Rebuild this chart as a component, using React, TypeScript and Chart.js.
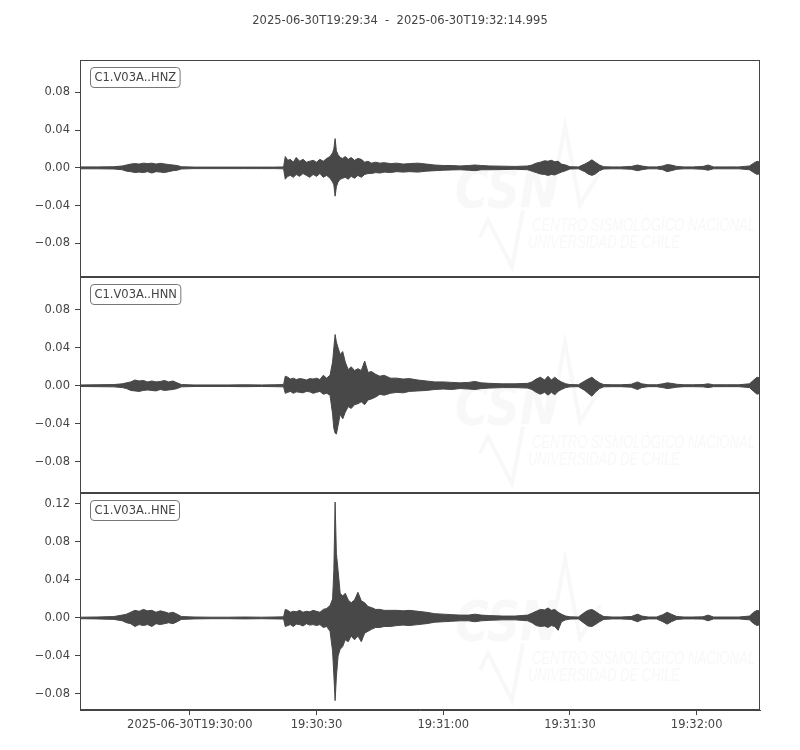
import { useEffect, useRef } from 'react';
import { Chart, registerables } from 'chart.js';

Chart.register(...registerables);

const TITLE = '2025-06-30T19:29:34  -  2025-06-30T19:32:14.995';
const DURATION_S = 160.995;
const X_TICKS_S = [26, 56, 86, 116, 146];
const X_TICK_LABELS = ['2025-06-30T19:30:00', '19:30:30', '19:31:00', '19:31:30', '19:32:00'];
const CHANNELS = ['C1.V03A..HNZ', 'C1.V03A..HNN', 'C1.V03A..HNE'];
const Y_RANGES = [
  [-0.1152, 0.1142],
  [-0.1135, 0.115],
  [-0.0969, 0.1312],
];
const Y_TICKS = [
  [-0.08, -0.04, 0, 0.04, 0.08],
  [-0.08, -0.04, 0, 0.04, 0.08],
  [-0.08, -0.04, 0, 0.04, 0.08, 0.12],
];

// seconds after 2025-06-30T19:29:34
const TIME_S = [
  0, 4, 8, 10, 11, 12, 13, 14, 15, 16,
  17, 18, 19, 20, 21, 22, 23, 24, 27, 31,
  35, 39, 43, 46, 48.2, 48.6, 49.2, 49.8, 50.5, 51.2,
  52, 52.8, 53.6, 54.4, 55.2, 56, 56.8, 57.6, 58.4, 59.2,
  59.8, 60.1, 60.4, 60.7, 61.1, 61.6, 62.2, 62.8, 63.5, 64.2,
  65, 65.8, 66.6, 67.4, 68.2, 69, 70, 71, 72, 73.5,
  75, 76.5, 78, 80, 82, 84, 86, 88, 90, 92,
  93.5, 95, 97, 100, 103, 106, 107, 108, 109, 110,
  110.8, 111.6, 112.4, 113.2, 114, 115, 116, 118, 119.5, 120.3,
  121.2, 122, 123, 124, 126, 128, 130.5, 132, 133, 134.5,
  136.5, 138, 139, 140, 141.3, 143, 145, 147.5, 148.7, 150,
  153, 156, 158.5, 159.5, 160.3, 160.995,
];

const HNZ_UPPER = [
  0.001, 0.001, 0.0012, 0.002, 0.003, 0.004, 0.0045, 0.004, 0.005, 0.0045,
  0.005, 0.004, 0.0048, 0.0042, 0.0035, 0.003, 0.0025, 0.0012, 0.0008, 0.0008,
  0.0008, 0.0008, 0.0008, 0.0008, 0.001, 0.012, 0.008, 0.009, 0.006, 0.011,
  0.007, 0.009, 0.006, 0.007, 0.008, 0.006, 0.009, 0.007, 0.01, 0.012,
  0.016, 0.02, 0.031, 0.018, 0.014, 0.011, 0.01, 0.012, 0.009, 0.011,
  0.008, 0.01, 0.009, 0.006, 0.007, 0.005, 0.006, 0.005, 0.0055, 0.0045,
  0.005, 0.004, 0.0045, 0.005, 0.004, 0.003, 0.0025, 0.0025, 0.002, 0.0025,
  0.003, 0.0025, 0.002, 0.0018, 0.0015, 0.002, 0.003, 0.005, 0.006, 0.0075,
  0.007, 0.008, 0.0065, 0.007, 0.004, 0.003, 0.0012, 0.001, 0.004, 0.006,
  0.0085, 0.006, 0.003, 0.0012, 0.001, 0.001, 0.0015, 0.003, 0.002, 0.001,
  0.001, 0.002, 0.0035, 0.003, 0.0015, 0.001, 0.001, 0.0015, 0.003, 0.001,
  0.001, 0.001, 0.002, 0.005, 0.007, 0.006,
];
const HNZ_LOWER = [
  -0.001, -0.001, -0.0012, -0.002, -0.0035, -0.004, -0.005, -0.0045, -0.005, -0.004,
  -0.0055, -0.004, -0.0045, -0.005, -0.004, -0.003, -0.0025, -0.0012, -0.0008, -0.0008,
  -0.0008, -0.0008, -0.0008, -0.0008, -0.001, -0.012, -0.009, -0.008, -0.01, -0.007,
  -0.009, -0.006, -0.008, -0.01, -0.007, -0.009, -0.006, -0.01, -0.008, -0.011,
  -0.015, -0.018, -0.03, -0.02, -0.015, -0.012, -0.011, -0.01, -0.012, -0.009,
  -0.011, -0.008, -0.01, -0.007, -0.006, -0.006, -0.005, -0.0055, -0.0045, -0.005,
  -0.004, -0.0045, -0.004, -0.0045, -0.0035, -0.003, -0.0025, -0.0022, -0.002, -0.0025,
  -0.003, -0.002, -0.002, -0.0018, -0.0015, -0.002, -0.0035, -0.005, -0.0065, -0.007,
  -0.008, -0.007, -0.0075, -0.006, -0.0045, -0.003, -0.0012, -0.001, -0.004, -0.0065,
  -0.008, -0.0065, -0.003, -0.0012, -0.001, -0.001, -0.0015, -0.003, -0.002, -0.001,
  -0.001, -0.002, -0.004, -0.003, -0.0015, -0.001, -0.001, -0.0015, -0.0025, -0.001,
  -0.001, -0.001, -0.002, -0.005, -0.007, -0.006,
];

const HNN_UPPER = [
  0.0008, 0.001, 0.0012, 0.002, 0.003, 0.004, 0.006, 0.005, 0.0055, 0.004,
  0.005, 0.004, 0.0045, 0.0055, 0.004, 0.005, 0.003, 0.0012, 0.0008, 0.0008,
  0.0008, 0.001, 0.0008, 0.001, 0.0012, 0.01, 0.009, 0.007, 0.008, 0.0065,
  0.0075, 0.007, 0.006, 0.0075, 0.007, 0.008, 0.0065, 0.011, 0.008, 0.011,
  0.025, 0.04, 0.054, 0.046, 0.04, 0.033, 0.036, 0.025, 0.017, 0.02,
  0.016, 0.018, 0.016, 0.026, 0.014, 0.015, 0.012, 0.01, 0.011, 0.008,
  0.008, 0.007, 0.0075, 0.006, 0.005, 0.004, 0.004, 0.0035, 0.003, 0.0035,
  0.0045, 0.003, 0.0025, 0.002, 0.002, 0.0025, 0.004, 0.007, 0.009, 0.006,
  0.01, 0.006, 0.009, 0.006, 0.004, 0.002, 0.0012, 0.001, 0.005, 0.007,
  0.009, 0.006, 0.003, 0.0012, 0.001, 0.001, 0.0015, 0.004, 0.002, 0.001,
  0.001, 0.002, 0.003, 0.0025, 0.0015, 0.001, 0.001, 0.0012, 0.002, 0.001,
  0.001, 0.001, 0.002, 0.006, 0.009, 0.008,
];
const HNN_LOWER = [
  -0.0008, -0.001, -0.0012, -0.002, -0.003, -0.005, -0.0055, -0.006, -0.005, -0.0045,
  -0.005, -0.0055, -0.004, -0.005, -0.0045, -0.004, -0.003, -0.0012, -0.0008, -0.0008,
  -0.0008, -0.001, -0.0008, -0.001, -0.0012, -0.008, -0.007, -0.006, -0.008, -0.0065,
  -0.007, -0.0075, -0.006, -0.0065, -0.008, -0.007, -0.006, -0.009, -0.008, -0.01,
  -0.03, -0.045, -0.05, -0.051, -0.042, -0.03, -0.035, -0.028, -0.022, -0.024,
  -0.02, -0.019, -0.017, -0.02, -0.015, -0.014, -0.012, -0.009, -0.01, -0.008,
  -0.007, -0.0075, -0.006, -0.0055, -0.005, -0.004, -0.0035, -0.004, -0.003, -0.0035,
  -0.004, -0.003, -0.0025, -0.002, -0.002, -0.0025, -0.004, -0.007, -0.009, -0.007,
  -0.01, -0.007, -0.0095, -0.006, -0.004, -0.002, -0.0012, -0.001, -0.005, -0.008,
  -0.011, -0.007, -0.003, -0.0012, -0.001, -0.001, -0.0015, -0.004, -0.002, -0.001,
  -0.001, -0.002, -0.003, -0.0025, -0.0015, -0.001, -0.001, -0.0012, -0.002, -0.001,
  -0.001, -0.001, -0.002, -0.006, -0.009, -0.008,
];

const HNE_UPPER = [
  0.0008, 0.001, 0.0015, 0.003, 0.004, 0.006, 0.008, 0.007, 0.009, 0.0075,
  0.008, 0.006, 0.0075, 0.0065, 0.005, 0.006, 0.004, 0.0015, 0.001, 0.0008,
  0.0008, 0.001, 0.0008, 0.001, 0.0012, 0.009, 0.008, 0.006, 0.007, 0.0065,
  0.008, 0.006, 0.007, 0.0065, 0.008, 0.007, 0.006, 0.009, 0.01, 0.013,
  0.02, 0.05, 0.122, 0.068, 0.05, 0.026, 0.023, 0.026, 0.019, 0.016,
  0.019, 0.027, 0.018, 0.016, 0.012, 0.011, 0.009, 0.009, 0.008, 0.008,
  0.008, 0.0075, 0.008, 0.007, 0.006, 0.0045, 0.004, 0.0035, 0.003, 0.003,
  0.004, 0.003, 0.0025, 0.002, 0.002, 0.003, 0.005, 0.007, 0.009, 0.0085,
  0.0105, 0.008, 0.009, 0.006, 0.004, 0.002, 0.0012, 0.001, 0.006, 0.008,
  0.009, 0.007, 0.004, 0.0015, 0.001, 0.001, 0.0015, 0.004, 0.002, 0.001,
  0.001, 0.0035, 0.006, 0.004, 0.0015, 0.001, 0.001, 0.0012, 0.003, 0.001,
  0.001, 0.001, 0.002, 0.006, 0.008, 0.007,
];
const HNE_LOWER = [
  -0.0008, -0.001, -0.0015, -0.003, -0.005, -0.006, -0.009, -0.007, -0.008, -0.007,
  -0.009, -0.006, -0.007, -0.006, -0.005, -0.006, -0.004, -0.0015, -0.001, -0.0008,
  -0.0008, -0.001, -0.0008, -0.001, -0.0012, -0.009, -0.008, -0.007, -0.009, -0.0065,
  -0.007, -0.0085, -0.006, -0.0075, -0.007, -0.008, -0.007, -0.01, -0.009, -0.014,
  -0.035, -0.06, -0.087, -0.062, -0.04, -0.033, -0.03, -0.023, -0.025, -0.019,
  -0.023, -0.019, -0.025, -0.016, -0.014, -0.012, -0.01, -0.01, -0.009, -0.009,
  -0.008, -0.0075, -0.008, -0.007, -0.006, -0.0045, -0.004, -0.0035, -0.003, -0.003,
  -0.004, -0.003, -0.0025, -0.002, -0.002, -0.003, -0.005, -0.008, -0.009, -0.0085,
  -0.01, -0.008, -0.009, -0.013, -0.004, -0.002, -0.0012, -0.001, -0.006, -0.0085,
  -0.009, -0.007, -0.004, -0.0015, -0.001, -0.001, -0.0015, -0.004, -0.002, -0.001,
  -0.001, -0.004, -0.0065, -0.004, -0.0015, -0.001, -0.001, -0.0012, -0.003, -0.001,
  -0.001, -0.001, -0.002, -0.006, -0.008, -0.007,
];

const ENVELOPES = [
  [HNZ_UPPER, HNZ_LOWER],
  [HNN_UPPER, HNN_LOWER],
  [HNE_UPPER, HNE_LOWER],
];

const AXIS_IDS = ['y0', 'y1', 'y2'];
const FONT = "'DejaVu Sans', sans-serif";
const TEXT_COLOR = '#444444';
const SPINE_COLOR = '#444444';
const TRACE_COLOR = '#484848';
const WATERMARK_COLOR = '#f8f8f8';

function fmtTick(v: number) {
  return v.toFixed(2).replace('-', '\u2212');
}

function drawWatermark(ctx: CanvasRenderingContext2D, top: number) {
  ctx.save();
  ctx.fillStyle = WATERMARK_COLOR;
  ctx.strokeStyle = WATERMARK_COLOR;
  ctx.font = `italic bold 56px 'DejaVu Sans', sans-serif`;
  ctx.textBaseline = 'alphabetic';
  ctx.textAlign = 'left';
  ctx.fillText('CSN', 455, top + 147, 103);
  ctx.lineWidth = 4;
  ctx.lineJoin = 'miter';
  ctx.beginPath();
  ctx.moveTo(551, top + 140);
  ctx.lineTo(565, top + 66);
  ctx.lineTo(580, top + 145);
  ctx.lineTo(600, top + 112);
  ctx.stroke();
  ctx.beginPath();
  ctx.moveTo(480, top + 177);
  ctx.lineTo(488, top + 160);
  ctx.lineTo(512, top + 207);
  ctx.lineTo(523, top + 150);
  ctx.stroke();
  ctx.font = `italic 18px 'Liberation Sans Narrow', 'Liberation Sans', sans-serif`;
  ctx.fillText('CENTRO SISMOLÓGICO NACIONAL', 532, top + 171, 223);
  ctx.fillText('UNIVERSIDAD DE CHILE', 528, top + 188, 152);
  ctx.restore();
}

function roundRect(ctx: CanvasRenderingContext2D, x: number, y: number, w: number, h: number, r: number) {
  ctx.beginPath();
  ctx.moveTo(x + r, y);
  ctx.lineTo(x + w - r, y);
  ctx.arcTo(x + w, y, x + w, y + r, r);
  ctx.lineTo(x + w, y + h - r);
  ctx.arcTo(x + w, y + h, x + w - r, y + h, r);
  ctx.lineTo(x + r, y + h);
  ctx.arcTo(x, y + h, x, y + h - r, r);
  ctx.lineTo(x, y + r);
  ctx.arcTo(x, y, x + r, y, r);
  ctx.closePath();
}

const decorPlugin = {
  id: 'seismoDecor',
  beforeDatasetsDraw(chart: any) {
    const ctx = chart.ctx as CanvasRenderingContext2D;
    const area = chart.chartArea;
    AXIS_IDS.forEach((id) => {
      const s = chart.scales[id];
      ctx.save();
      ctx.beginPath();
      ctx.rect(area.left, s.top, area.right - area.left, s.bottom - s.top);
      ctx.clip();
      drawWatermark(ctx, s.top);
      ctx.restore();
    });
  },
  afterDraw(chart: any) {
    const ctx = chart.ctx as CanvasRenderingContext2D;
    const area = chart.chartArea;
    ctx.save();
    // frames
    ctx.strokeStyle = SPINE_COLOR;
    ctx.lineWidth = 1;
    AXIS_IDS.forEach((id) => {
      const s = chart.scales[id];
      const l = Math.round(area.left) + 0.5;
      const r = Math.round(area.right) - 0.5;
      const t = Math.round(s.top) + 0.5;
      const b = Math.round(s.bottom) - 0.5;
      ctx.strokeRect(l, t, r - l, b - t);
    });
    // channel labels
    ctx.font = `11.5px ${FONT}`;
    ctx.textBaseline = 'middle';
    ctx.textAlign = 'left';
    AXIS_IDS.forEach((id, i) => {
      const s = chart.scales[id];
      const w = ctx.measureText(CHANNELS[i]).width;
      const x = Math.round(area.left) + 10.5;
      const y = Math.round(s.top) + 7.5;
      roundRect(ctx, x, y, w + 8, 20, 3.5);
      ctx.fillStyle = 'rgba(255,255,255,0.9)';
      ctx.fill();
      ctx.strokeStyle = '#777777';
      ctx.stroke();
      ctx.fillStyle = TEXT_COLOR;
      ctx.fillText(CHANNELS[i], x + 4, y + 10.5);
    });
    // title
    ctx.font = `11.5px ${FONT}`;
    ctx.textAlign = 'center';
    ctx.fillStyle = TEXT_COLOR;
    ctx.fillText(TITLE, 400, 21);
    ctx.restore();
  },
};

function makeYAxis(i: number) {
  return {
    type: 'linear',
    position: 'left',
    stack: 'traces',
    stackWeight: 1,
    min: Y_RANGES[i][0],
    max: Y_RANGES[i][1],
    afterBuildTicks: (scale: any) => {
      scale.ticks = Y_TICKS[i].map((v) => ({ value: v }));
    },
    afterFit: (scale: any) => {
      scale.width = 80;
    },
    ticks: {
      color: TEXT_COLOR,
      font: { family: FONT, size: 11.5 },
      padding: 5,
      callback: (v: number) => fmtTick(v),
    },
    grid: {
      display: true,
      drawOnChartArea: false,
      drawTicks: true,
      tickLength: 5,
      color: SPINE_COLOR,
      tickColor: SPINE_COLOR,
    },
    border: { display: true, color: SPINE_COLOR, width: 1 },
  };
}

export default function App() {
  const ref = useRef<HTMLCanvasElement | null>(null);

  useEffect(() => {
    document.body.style.margin = '0';
    const canvas = ref.current;
    if (!canvas) return;

    const datasets: any[] = [];
    ENVELOPES.forEach(([up, lo], i) => {
      datasets.push({
        label: CHANNELS[i] + ' max',
        data: TIME_S.map((t, k) => ({ x: t, y: up[k] })),
        yAxisID: AXIS_IDS[i],
        borderColor: TRACE_COLOR,
        backgroundColor: TRACE_COLOR,
        borderWidth: 1,
        pointRadius: 0,
        tension: 0,
        fill: false,
      });
      datasets.push({
        label: CHANNELS[i] + ' min',
        data: TIME_S.map((t, k) => ({ x: t, y: lo[k] })),
        yAxisID: AXIS_IDS[i],
        borderColor: TRACE_COLOR,
        backgroundColor: TRACE_COLOR,
        borderWidth: 1,
        pointRadius: 0,
        tension: 0,
        fill: '-1',
      });
    });

    // stacked left axes are laid out bottom-up in definition order
    const scales: any = {
      x: {
        type: 'linear',
        position: 'bottom',
        min: 0,
        max: DURATION_S,
        afterBuildTicks: (scale: any) => {
          scale.ticks = X_TICKS_S.map((v) => ({ value: v }));
        },
        afterFit: (scale: any) => {
          scale.height = 40;
        },
        ticks: {
          color: TEXT_COLOR,
          font: { family: FONT, size: 11.5 },
          padding: 3,
          maxRotation: 0,
          autoSkip: false,
          callback: (_v: number, idx: number) => X_TICK_LABELS[idx] ?? '',
        },
        grid: {
          display: true,
          drawOnChartArea: false,
          drawTicks: true,
          tickLength: 5,
          color: SPINE_COLOR,
          tickColor: SPINE_COLOR,
        },
        border: { display: true, color: SPINE_COLOR, width: 1 },
      },
    };
    for (let i = AXIS_IDS.length - 1; i >= 0; i--) {
      scales[AXIS_IDS[i]] = makeYAxis(i);
    }

    const chart = new Chart(canvas, {
      type: 'line',
      data: { datasets },
      plugins: [decorPlugin],
      options: {
        animation: false,
        responsive: false,
        devicePixelRatio: 1,
        layout: { padding: { top: 60, right: 40, bottom: 0, left: 0 } },
        plugins: {
          legend: { display: false },
          tooltip: { enabled: false },
          title: { display: false },
        },
        scales,
      },
    } as any);

    return () => chart.destroy();
  }, []);

  return (
    <div style={{ width: 800, height: 750, background: '#ffffff' }}>
      <canvas ref={ref} width={800} height={750} style={{ display: 'block', width: 800, height: 750 }} />
    </div>
  );
}
